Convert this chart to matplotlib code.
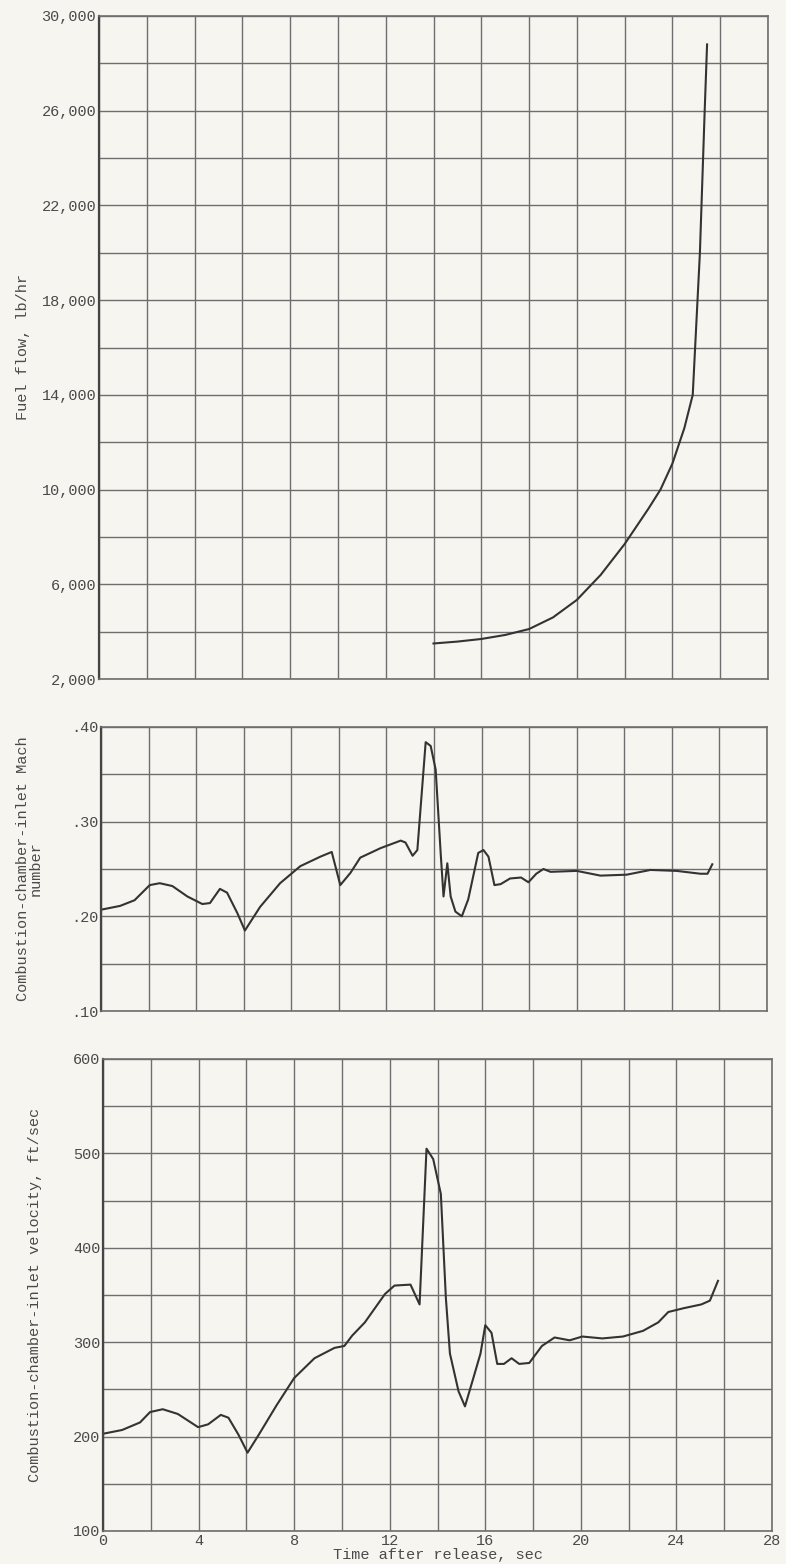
import numpy as np
import matplotlib
matplotlib.use('Agg')
import matplotlib.pyplot as plt
from matplotlib.ticker import MultipleLocator, FuncFormatter

plt.rcParams['font.family'] = ['Liberation Mono', 'DejaVu Sans Mono']

#### DATA ####
t_fuel = [14, 15, 16, 17, 18, 19, 20, 21, 22, 23, 23.5, 24, 24.5, 24.85,
          24.95, 25.05, 25.15, 25.25, 25.35, 25.45]
fuel = [3500, 3580, 3690, 3860, 4110, 4600, 5340, 6400, 7700, 9200, 10000,
        11100, 12600, 14000, 16000, 18000, 20000, 23000, 26000, 28800]

t_mach = [0, 0.8, 1.41, 2.05, 2.47, 3.0, 3.63, 4.26, 4.58, 5.0, 5.3, 5.74, 6.05,
          6.69, 7.53, 8.38, 9.22, 9.7, 10.06, 10.49, 10.9, 11.75, 12.6, 12.8,
          13.1, 13.3, 13.65, 13.86, 14.07, 14.28, 14.4, 14.56, 14.7, 14.9,
          15.17, 15.44, 15.86, 16.08, 16.29, 16.54, 16.8, 17.2, 17.66, 17.97,
          18.3, 18.6, 18.9, 20.0, 21.0, 22.1, 23.1, 24.2, 25.2, 25.5, 25.7]
mach = [.207, .211, .217, .233, .235, .232, .221, .213, .214, .229, .225, .203,
        .185, .210, .235, .253, .263, .268, .233, .246, .262, .272, .280, .278,
        .264, .270, .384, .380, .355, .267, .221, .256, .221, .205,
        .200, .218, .267, .270, .263, .233, .234, .240, .241, .236,
        .245, .250, .247, .248, .243, .244, .249, .248, .245, .245, .255]

t_vel = [0, 0.8, 1.55, 1.97, 2.5, 3.13, 3.98, 4.4, 4.93, 5.25, 5.67, 6.05, 6.52,
         7.26, 8.0, 8.85, 9.69, 10.1, 10.43, 10.96, 11.8, 12.2, 12.87, 13.25,
         13.54, 13.82, 14.14, 14.35, 14.52, 14.88, 15.15, 15.5, 15.8, 16.0,
         16.26, 16.5, 16.78, 17.1, 17.42, 17.84, 18.37, 18.9, 19.53, 20.06,
         20.9, 21.76, 22.6, 23.24, 23.66, 24.3, 25.04, 25.4, 25.74]
vel = [203, 207, 215, 226, 229, 224, 210, 213, 223, 220, 202, 183, 202,
       233, 262, 283, 294, 296, 307, 321, 351, 360, 361, 340,
       505, 494, 457, 347, 288, 248, 232, 262, 288, 318,
       310, 277, 277, 283, 277, 278, 296, 305, 302, 306,
       304, 306, 312, 321, 332, 336, 340, 344, 365]

fuel_ticks = [2000, 6000, 10000, 14000, 18000, 22000, 26000, 30000]

paper = '#f6f5f0'
grid_c = '#6e6e6e'
ink = '#333333'
txt = '#4a4a4a'

fig = plt.figure(figsize=(7.86, 15.64), dpi=100, facecolor=paper)

def make_axes(rect, ylim, ymin, yfmt, show_x):
    ax = fig.add_axes(rect, facecolor=paper)
    ax.set_xlim(0, 28)
    ax.set_ylim(*ylim)
    ax.xaxis.set_major_locator(MultipleLocator(4))
    ax.xaxis.set_minor_locator(MultipleLocator(2))
    ax.yaxis.set_minor_locator(MultipleLocator(ymin))
    ax.yaxis.set_major_formatter(FuncFormatter(yfmt))
    ax.grid(True, which='both', color=grid_c, lw=1.0)
    ax.tick_params(which='both', length=0, colors=txt, labelsize=11, pad=2)
    if not show_x:
        ax.tick_params(axis='x', labelbottom=False)
    for s in ax.spines.values():
        s.set_color(grid_c)
        s.set_linewidth(1.2)
    ax.spines['left'].set_color('#444444')
    ax.spines['left'].set_linewidth(1.6)
    ax.set_axisbelow(True)
    return ax

# fuel flow
ax1 = make_axes([99/786, 1 - 679/1564, 669/786, 663/1564], (2000, 30000), 2000,
                lambda v, p: f'{int(v):,}', False)
ax1.set_yticks(fuel_ticks)
ax1.plot(t_fuel, fuel, color=ink, lw=1.5)
ax1.set_ylabel('Fuel flow, lb/hr', color=txt, fontsize=11, labelpad=8)

# mach number
ax2 = make_axes([101/786, 1 - 1011/1564, 666/786, 284/1564], (0.10, 0.40), 0.05,
                lambda v, p: f'{v:.2f}'.lstrip('0'), False)
ax2.yaxis.set_major_locator(MultipleLocator(0.10))
ax2.plot(t_mach, mach, color=ink, lw=1.5)
ax2.set_ylabel('Combustion-chamber-inlet Mach\nnumber', color=txt, fontsize=11,
               labelpad=20, linespacing=0.95)

# velocity
ax3 = make_axes([103/786, 1 - 1531/1564, 669/786, 472/1564], (100, 600), 50,
                lambda v, p: f'{int(v)}', True)
ax3.yaxis.set_major_locator(MultipleLocator(100))
ax3.plot(t_vel, vel, color=ink, lw=1.5)
ax3.set_ylabel('Combustion-chamber-inlet velocity, ft/sec', color=txt, fontsize=11,
               labelpad=22)
ax3.set_xlabel('Time after release, sec', color=txt, fontsize=11, labelpad=0)

plt.savefig('out.png', dpi=100, facecolor=paper)
plt.close()
